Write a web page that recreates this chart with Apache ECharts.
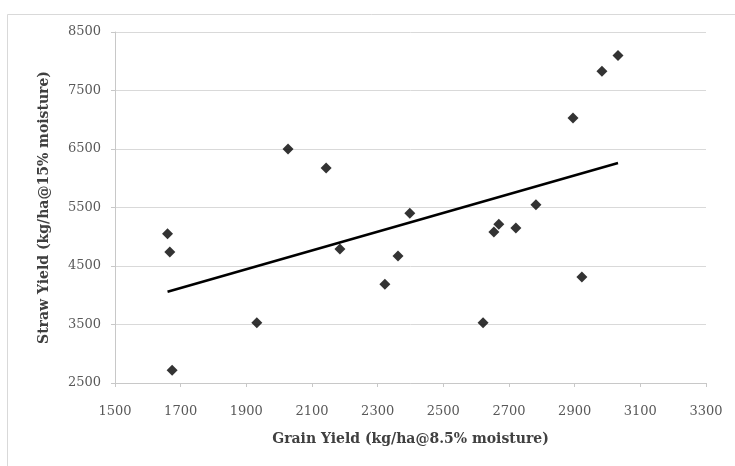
<!DOCTYPE html>
<html>
<head>
<meta charset="utf-8">
<script src="https://cdn.jsdelivr.net/npm/echarts@6/dist/echarts.min.js"></script>
<style>
  html, body { margin: 0; padding: 0; background: #fff; }
  #chart { width: 735px; height: 466px; }
</style>
</head>
<body>
<div id="chart"></div>
<script>
// grain yield (kg/ha) vs straw yield (kg/ha)
const grainYield = [1660, 1667, 1674, 1932, 2027, 2143, 2185, 2322, 2362, 2398, 2621, 2654, 2669, 2721, 2782, 2895, 2922, 2983, 3032]
const strawYield = [5050, 4740, 2720, 3530, 6500, 6175, 4790, 4190, 4670, 5400, 3530, 5080, 5215, 5150, 5545, 7030, 4310, 7830, 8100]

// linear trendline endpoints as drawn
const trendX = [1660, 3032]
const trendY = [4060, 6260]

const xTicks = { min: 1500, max: 3300, interval: 200 }
const yTicks = { min: 2500, max: 8500, interval: 1000 }

const labelFont = 'DejaVu Serif'

const chart = echarts.init(document.getElementById('chart'))

const points = grainYield.map((x, i) => [x, strawYield[i]])
const trend = trendX.map((x, i) => [x, trendY[i]])

chart.setOption({
  animation: false,
  backgroundColor: '#fff',
  graphic: [
    {
      type: 'rect',
      shape: { x: 7.5, y: 14.5, width: 740, height: 460 },
      style: { fill: 'none', stroke: '#d9d9d9', lineWidth: 1 },
      silent: true
    }
  ],
  grid: {
    left: 115,
    right: 29,
    top: 32,
    bottom: 83
  },
  xAxis: {
    type: 'value',
    min: xTicks.min,
    max: xTicks.max,
    interval: xTicks.interval,
    name: 'Grain Yield (kg/ha@8.5% moisture)',
    nameLocation: 'middle',
    nameGap: 49,
    nameTextStyle: {
      fontFamily: labelFont,
      fontWeight: 'bold',
      fontSize: 14,
      color: '#404040'
    },
    axisLine: { show: true, lineStyle: { color: '#c8c8c8', width: 1 } },
    axisTick: { show: true, length: 4, lineStyle: { color: '#c8c8c8' } },
    axisLabel: {
      margin: 22,
      fontFamily: labelFont,
      fontSize: 13,
      color: '#595959',
      formatter: v => String(v)
    },
    splitLine: { show: false }
  },
  yAxis: {
    type: 'value',
    min: yTicks.min,
    max: yTicks.max,
    interval: yTicks.interval,
    name: 'Straw Yield (kg/ha@15% moisture)',
    nameLocation: 'middle',
    nameGap: 64,
    nameTextStyle: {
      fontFamily: labelFont,
      fontWeight: 'bold',
      fontSize: 14,
      color: '#404040'
    },
    axisLine: { show: true, lineStyle: { color: '#c8c8c8', width: 1 } },
    axisTick: { show: true, length: 4, lineStyle: { color: '#c8c8c8' } },
    axisLabel: {
      margin: 14,
      fontFamily: labelFont,
      fontSize: 13,
      color: '#595959',
      formatter: v => String(v)
    },
    splitLine: { show: true, lineStyle: { color: '#d9d9d9', width: 1 } }
  },
  series: [
    {
      name: 'Straw',
      type: 'scatter',
      symbol: 'diamond',
      symbolSize: 11,
      itemStyle: { color: '#000' },
      data: points,
      z: 3
    },
    {
      name: 'Trend',
      type: 'line',
      showSymbol: false,
      lineStyle: { color: '#000', width: 2.5 },
      data: trend,
      z: 2
    }
  ]
})
</script>
</body>
</html>
